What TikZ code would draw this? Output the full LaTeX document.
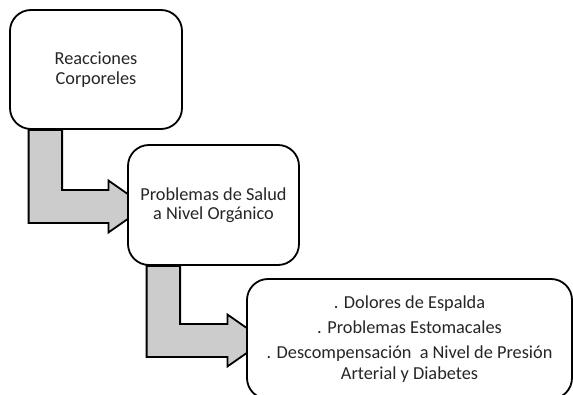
\documentclass[tikz,border=0pt]{standalone}
\usepackage{fontspec}
\setmainfont{Carlito}
\colorlet{FlechaRelleno}{gray!40}
\colorlet{TextoCaja}{black!85}
\usetikzlibrary{calc}
\pgfdeclarelayer{fondo}
\pgfsetlayers{fondo,main}

\tikzset{
  caja/.style={draw, line width=1.8pt, rounded corners=21pt, fill=white,
    align=center, text=TextoCaja, inner sep=0pt,
    font=\fontsize{18.3}{19.5}\selectfont},
  flecha/.style={draw, line width=1.8pt, fill=FlechaRelleno, line join=miter},
}

% bent block arrow from the bottom of one box to the left side of the next
\newcommand{\flechaL}[2]{%
  \draw [flecha] let \p1 = (#1.south west), \p2 = (#2.west) in
    (\x1+19.5,\y1) -- (\x1+19.5,\y2-18) -- (\x2-18.7,\y2-18)
    -- (\x2-18.7,\y2-27.5) -- (\x2+18.5,\y2-1.5) -- (\x2-18.7,\y2+24.5)
    -- (\x2-18.7,\y2+15) -- (\x1+53,\y2+15) -- (\x1+53,\y1) -- cycle;}

\begin{document}
\begin{tikzpicture}[x=1pt, y=1pt]

\clip (0,0) rectangle (573,394);

\node [caja, minimum width=172pt, minimum height=119pt] (reacciones)
      at (96,324.5) {Reacciones\\Corporeles};
\node [caja, minimum width=171pt, minimum height=120pt] (salud)
      at (213.5,189) {Problemas de Salud\\a Nivel Orgánico};
\node [caja, minimum width=325pt, minimum height=120pt] (sintomas)
      at (409.5,55) {. Dolores de Espalda\\[5.5pt]
                     . Problemas Estomacales\\[5.5pt]
                     . Descompensación\ \ a Nivel de Presión\\[2pt]
                     Arterial y Diabetes};

\begin{pgfonlayer}{fondo}
  \flechaL{reacciones}{salud}
  \flechaL{salud}{sintomas}
\end{pgfonlayer}

\end{tikzpicture}
\end{document}
